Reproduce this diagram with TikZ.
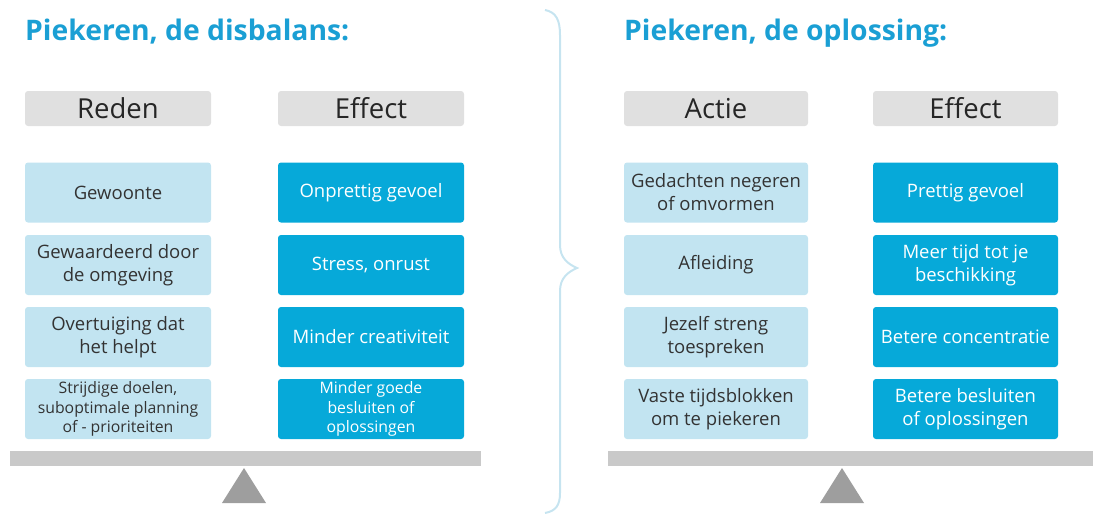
\documentclass[tikz,border=0pt]{standalone}
\usepackage{fontspec}
\setmainfont{Open Sans}
\definecolor{titleblue}{HTML}{1A9FD4}
\definecolor{lightbox}{HTML}{C2E4F1}
\definecolor{darkbox}{HTML}{06A9D9}
\definecolor{headgray}{HTML}{E0E0E0}
\definecolor{beamgray}{HTML}{C9C9C9}
\definecolor{pivotgray}{HTML}{9E9E9E}
\definecolor{bracecol}{HTML}{C6E4F0}
\definecolor{darktext}{HTML}{333333}
\tikzset{
  titletext/.style={anchor=base west, inner sep=0pt, text=titleblue, font=\fontsize{28.3}{31}\selectfont\bfseries},
  headbox/.style={fill=headgray, rounded corners=3pt, minimum height=35pt, inner sep=0pt, text=black!85, font=\fontsize{27.5}{29}\selectfont},
  lbox/.style={fill=lightbox, rounded corners=3pt, minimum height=60pt, inner sep=0pt, align=center, text=darktext, font=\fontsize{18.5}{23}\selectfont},
  dbox/.style={fill=darkbox, rounded corners=3pt, minimum height=60pt, inner sep=0pt, align=center, text=white, font=\fontsize{18.5}{23}\selectfont},
  small/.style={font=\fontsize{15.8}{19.5}\selectfont},
  beam/.style={fill=beamgray, draw=none},
  pivot/.style={fill=pivotgray, draw=none},
}
\begin{document}
\begin{tikzpicture}[x=1pt,y=-1pt]
\useasboundingbox (0,0) rectangle (1098,515);
% brace
\draw[bracecol, line width=2pt] (545,10) .. controls (556,12) and (560,20) .. (560,35) -- (560,245) .. controls (560,258) and (568,264) .. (577,268) .. controls (568,272) and (560,278) .. (560,291) -- (560,493) .. controls (560,505) and (556,511) .. (545,513);
% titles
\node[titletext] (t1) at (25,40) {Piekeren, de disbalans:};
\node[titletext] (t2) at (624,40) {Piekeren, de oplossing:};
% headers
\node[headbox, minimum width=186pt] (h1) at (118,108.5) {Reden};
\node[headbox, minimum width=186pt] (h2) at (371,108.5) {Effect};
\node[headbox, minimum width=184pt] (h3) at (716,108.5) {Actie};
\node[headbox, minimum width=185pt] (h4) at (965.5,108.5) {Effect};
% left column
\node[lbox, minimum width=186pt] (l1) at (118,192.5) {Gewoonte};
\node[lbox, minimum width=186pt] (l2) at (118,265) {Gewaardeerd door\\de omgeving};
\node[lbox, minimum width=186pt] (l3) at (118,337) {Overtuiging dat\\het helpt};
\node[lbox, small, minimum width=186pt] (l4) at (118,409) {Strijdige doelen,\\suboptimale planning\\of - prioriteiten};
\node[dbox, minimum width=186pt] (e1) at (371,192.5) {Onprettig gevoel};
\node[dbox, minimum width=186pt] (e2) at (371,265) {Stress, onrust};
\node[dbox, minimum width=186pt] (e3) at (371,337) {Minder creativiteit};
\node[dbox, small, minimum width=186pt] (e4) at (371,409) {Minder goede\\besluiten of\\oplossingen};
% right columns
\node[lbox, minimum width=184pt] (a1) at (716,192.5) {Gedachten negeren\\of omvormen};
\node[lbox, minimum width=184pt] (a2) at (716,265) {Afleiding};
\node[lbox, minimum width=184pt] (a3) at (716,337) {Jezelf streng\\toespreken};
\node[lbox, minimum width=184pt] (a4) at (716,409) {Vaste tijdsblokken\\om te piekeren};
\node[dbox, minimum width=185pt] (f1) at (965.5,192.5) {Prettig gevoel};
\node[dbox, minimum width=185pt] (f2) at (965.5,265) {Meer tijd tot je\\beschikking};
\node[dbox, minimum width=185pt] (f3) at (965.5,337) {Betere concentratie};
\node[dbox, minimum width=185pt] (f4) at (965.5,409) {Betere besluiten\\of oplossingen};
% balances
\fill[beam] (10,451) rectangle (481,466);
\fill[pivot] (244,468) -- (266,503) -- (222,503) -- cycle;
\fill[beam] (608,451) rectangle (1093,466);
\fill[pivot] (842,468) -- (864,503) -- (820,503) -- cycle;
\end{tikzpicture}
\end{document}
